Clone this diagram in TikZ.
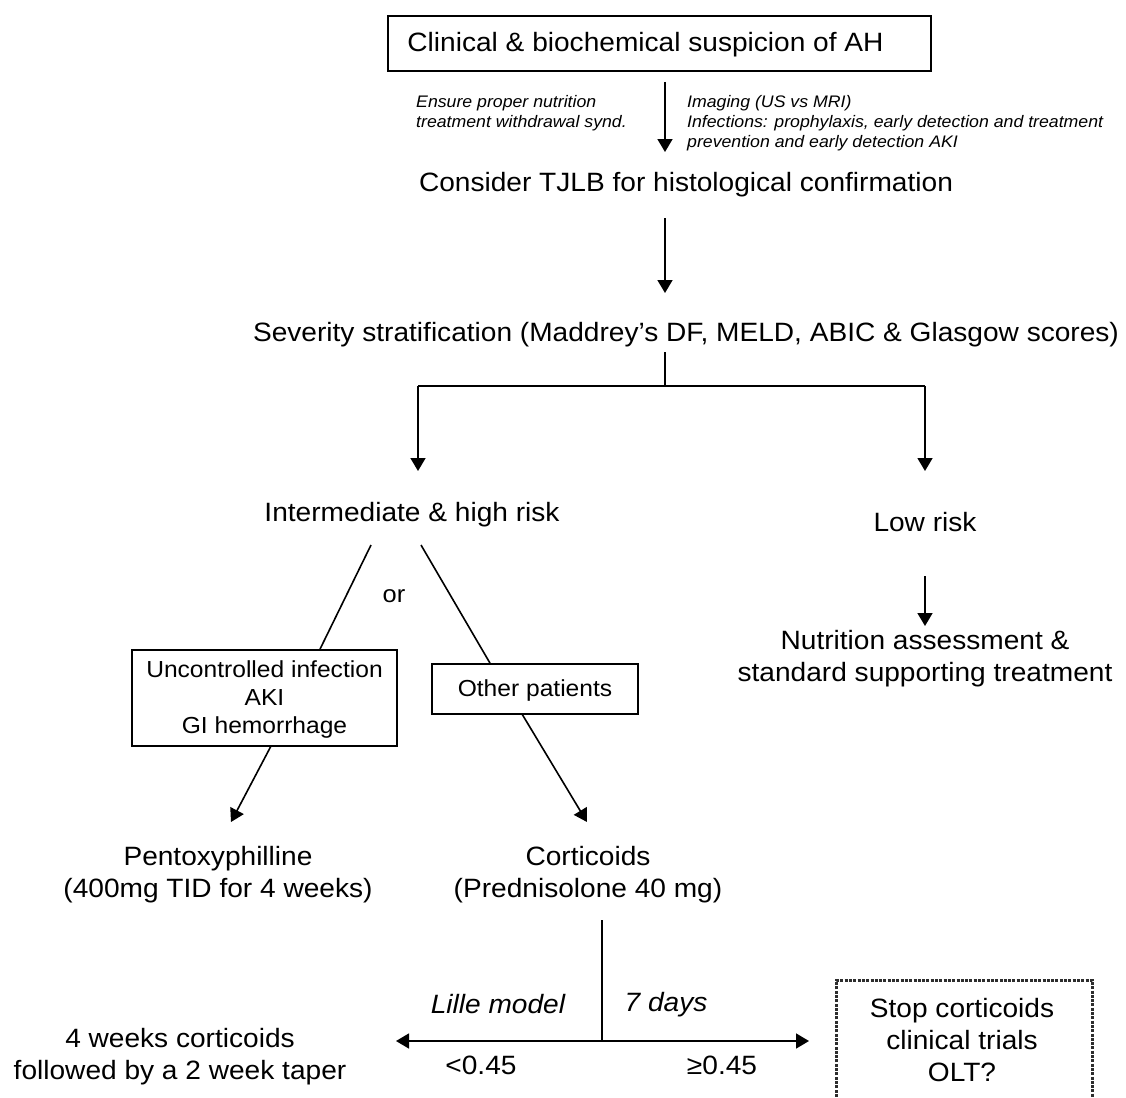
\documentclass[tikz,border=0pt]{standalone}
\usepackage{fontspec}
\setmainfont{Liberation Sans}[FakeStretch=1.06]
\usetikzlibrary{arrows.meta}
\begin{document}
\begin{tikzpicture}[x=1pt,y=-1pt,
  txt/.style={font=\fontsize{26.5}{32}\selectfont, inner sep=0pt, align=center},
  itx/.style={font=\fontsize{26.5}{32}\selectfont\itshape, inner sep=0pt, align=center},
  btx/.style={font=\fontsize{23.2}{28}\selectfont, inner sep=0pt, align=center},
  frame/.style={draw, line width=1.7pt, inner sep=0pt},
  sm/.style={font=\fontsize{16.7}{20}\selectfont\itshape, inner sep=0pt, align=left},
  ln/.style={line width=1.6pt},
  arr/.style={ln, -{Triangle[length=13pt,width=15pt]}}]
\useasboundingbox (0,0) rectangle (1126,1097);
\fill[white] (0,0) rectangle (1126,1097);

% boxes
\node[frame, minimum width=543pt, minimum height=55pt] (top) at (659.5,43.5) {};
\node[frame, minimum width=265pt, minimum height=96pt] (unc) at (264.5,698) {};
\node[frame, minimum width=206pt, minimum height=50pt] (oth) at (535,689) {};
\node[minimum width=255pt, minimum height=125pt, inner sep=0pt, anchor=north] (stopbox) at (964.5,980) {};
\draw[gray!35!black, line width=3pt, dash pattern=on 3pt off 1.3pt] (stopbox.south west) -- (stopbox.north west) -- (stopbox.north east) -- (stopbox.south east);

% texts
\node[txt] (toptxt) at (645.5,45) {Clinical \& biochemical suspicion of AH};
\node[btx] (unctxt) at (264.5,699) {Uncontrolled infection\\AKI\\GI hemorrhage};
\node[btx] (othtxt) at (535,690) {Other patients};
\node[sm, anchor=west] (ann1) at (416,113) {Ensure proper nutrition\\treatment withdrawal synd.};
\node[sm, anchor=west] (ann2) at (687,123) {Imaging (US vs MRI)\\Infections: prophylaxis, early detection and treatment\\prevention and early detection AKI};
\node[txt] (cons) at (686,185) {Consider TJLB for histological confirmation};
\node[txt] (sev) at (686,335) {Severity stratification (Maddrey’s DF, MELD, ABIC \& Glasgow scores)};
\node[txt] (ihr) at (412,515) {Intermediate \& high risk};
\node[txt] (low) at (925,522) {Low risk};
\node[txt] (nut) at (925,659) {Nutrition assessment \&\\standard supporting treatment};
\node[txt, font=\fontsize{24}{28}\selectfont] (or) at (394,596) {or};
\node[txt] (pen) at (218,875) {Pentoxyphilline\\(400mg TID for 4 weeks)};
\node[txt] (cor) at (588,875) {Corticoids\\(Prednisolone 40 mg)};
\node[itx] (lille) at (498,1004) {Lille model};
\node[itx] (days) at (666,1005) {7 days};
\node[txt] (lt) at (481,1065) {<0.45};
\node[txt] (ge) at (722,1065) {≥0.45};
\node[txt] (four) at (180,1057) {4 weeks corticoids\\followed by a 2 week taper};
\node[txt] (stop) at (962,1040.5) {Stop corticoids\\clinical trials\\OLT?};

% connector points
\coordinate (a1s) at (665,82);  \coordinate (a1e) at (665,152);
\coordinate (a2s) at (665,218); \coordinate (a2e) at (665,293);
\coordinate (bs) at (665,352);  \coordinate (bj) at (665,386);
\coordinate (bl) at (418,386);  \coordinate (br) at (925,386);
\coordinate (ble) at (418,471); \coordinate (bre) at (925,471);
\coordinate (ls) at (925,576);  \coordinate (le) at (925,626);
\coordinate (il) at (371,545);  \coordinate (ir) at (421,545);
\coordinate (ob) at (522,714);  \coordinate (ce) at (587,822);
\coordinate (ub) at (271,746);  \coordinate (pe) at (231,822);
\coordinate (cs) at (602,920);  \coordinate (cj) at (602,1041);
\coordinate (hl) at (396,1041); \coordinate (hr) at (809,1041);

% connectors
\draw[arr] (a1s) -- (a1e);
\draw[arr] (a2s) -- (a2e);
\draw[ln] (bs) -- (bj);
\draw[ln] (bl) -- (br);
\draw[arr] (bl) -- (ble);
\draw[arr] (br) -- (bre);
\draw[arr] (ls) -- (le);
\draw[ln] (il) -- (unc.north -| 320,0);
\draw[ln] (ir) -- (oth.north -| 490,0);
\draw[arr] (ub) -- (pe);
\draw[arr] (ob) -- (ce);
\draw[ln] (cs) -- (cj);
\draw[arr] (cj) -- (hl);
\draw[arr] (cj) -- (hr);
\end{tikzpicture}
\end{document}
